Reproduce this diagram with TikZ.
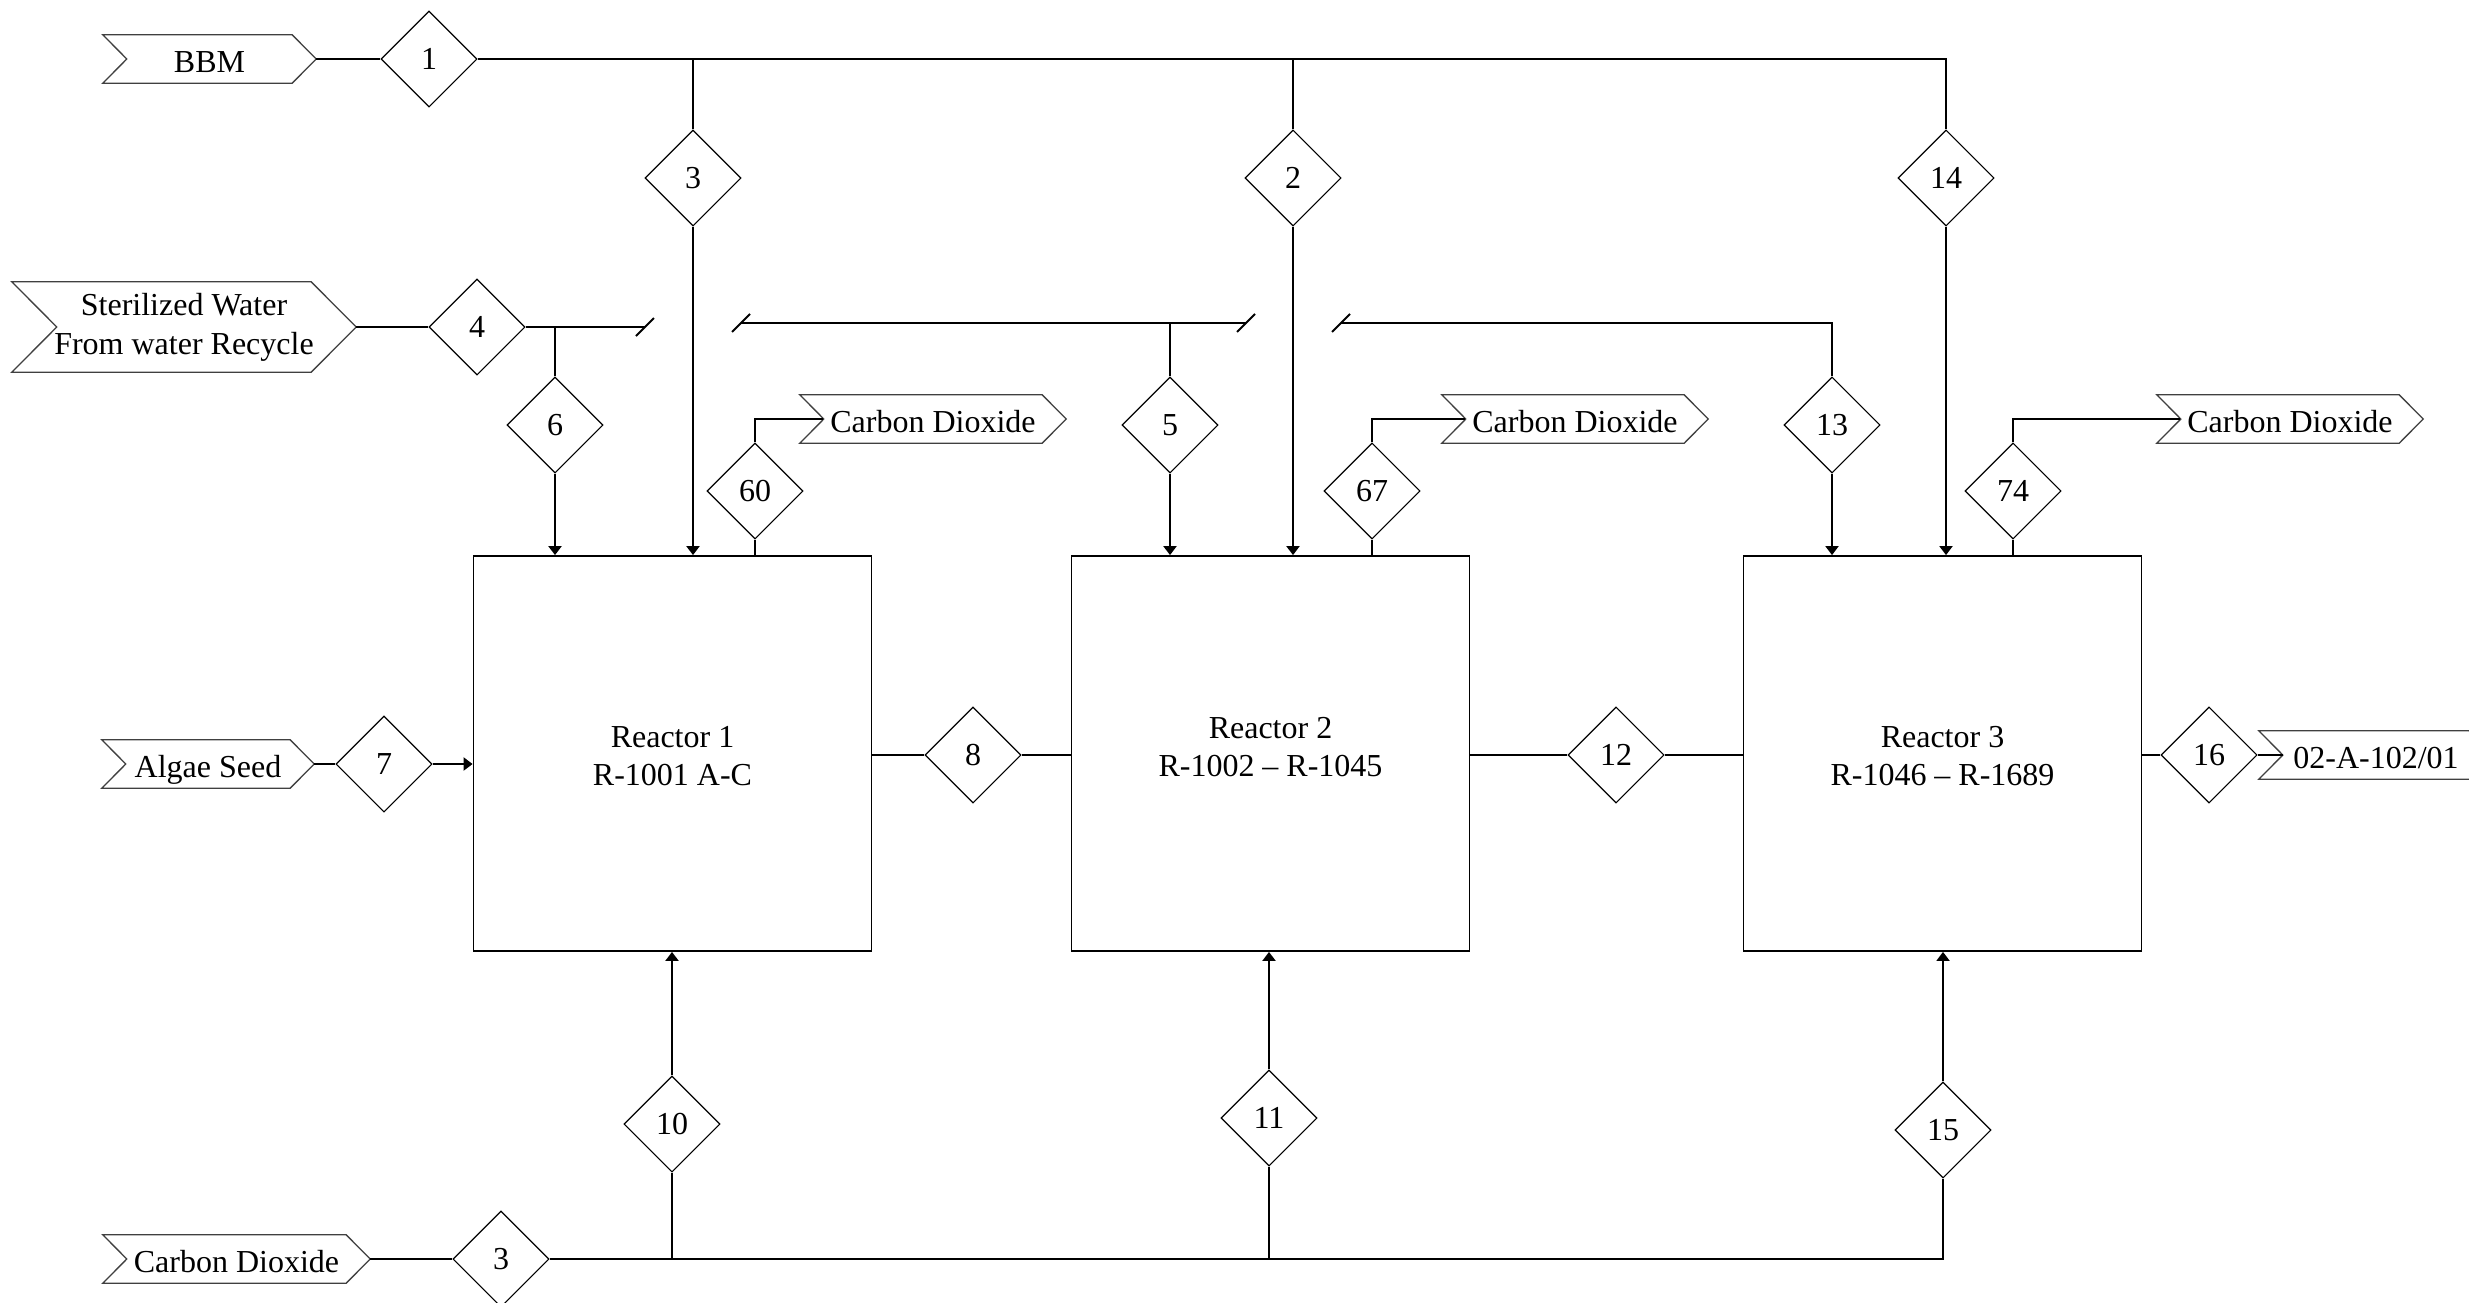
\documentclass[tikz,border=0pt]{standalone}
\usepackage{fontspec}
\setmainfont{Liberation Serif}
\usetikzlibrary{shapes.geometric,arrows.meta}
\newcommand\opdraw[2]{\draw[opline] (#1.north west) -- ([xshift=-#2]#1.north east) -- (#1.east) -- ([xshift=-#2]#1.south east) -- (#1.south west) -- ([xshift=#2]#1.west) -- cycle;}
\newcommand\brkmark[1]{\draw[brk] ([shift={(-9pt,-9pt)}]#1) -- ([shift={(9pt,9pt)}]#1);}
\begin{document}
\begin{tikzpicture}[x=1pt,y=-1pt,
  font=\fontsize{32}{39}\selectfont,
  diam/.style={diamond, draw, line width=1.1pt, minimum width=96pt, minimum height=96pt, inner sep=0pt, fill=white},
  reactor/.style={draw, line width=1.8pt, minimum width=398pt, minimum height=395pt, inner sep=0pt},
  rtext/.style={align=center, font=\fontsize{32}{38}\selectfont},
  opnode/.style={inner sep=0pt, minimum height=48pt, align=center, text height=26pt, text depth=0pt},
  opline/.style={draw=black!75, line width=1.3pt, line join=miter},
  flow/.style={line width=2pt},
  arr/.style={flow, -{Triangle[length=9pt,width=13pt]}},
  brk/.style={line width=2pt}]
\useasboundingbox (0,0) rectangle (2469,1302);

% offpage connectors
\node[opnode, minimum width=213pt] (bbm) at (209.5,59) {BBM};
\node[inner sep=0pt, minimum height=90pt, align=center, minimum width=344pt] (sw) at (184,327) {Sterilized Water\\From water Recycle};
\node[opnode, minimum width=266pt] (co1) at (933,419) {Carbon Dioxide};
\node[opnode, minimum width=266pt] (co2) at (1575,419) {Carbon Dioxide};
\node[opnode, minimum width=266pt] (co3) at (2290,419) {Carbon Dioxide};
\node[opnode, minimum width=212pt] (alg) at (208,764) {Algae Seed};
\node[opnode, minimum width=234pt] (prod) at (2376,755) {02-A-102/01};
\node[opnode, minimum width=267pt] (co4) at (236.5,1259) {Carbon Dioxide};
\opdraw{bbm}{24pt}
\opdraw{sw}{45pt}
\opdraw{co1}{24pt}
\opdraw{co2}{24pt}
\opdraw{co3}{24pt}
\opdraw{alg}{24pt}
\opdraw{prod}{24pt}
\opdraw{co4}{24pt}

% reactors
\node[reactor, label={[rtext, yshift=-3pt]center:Reactor 1\\R-1001 A-C}] (r1) at (672.5,753.5) {};
\node[reactor, label={[rtext, yshift=6pt]center:Reactor 2\\R-1002 – R-1045}] (r2) at (1270.5,753.5) {};
\node[reactor, label={[rtext, yshift=-3pt]center:Reactor 3\\R-1046 – R-1689}] (r3) at (1942.5,753.5) {};

% stream diamonds
\node[diam] (d1) at (429,59) {1};
\node[diam] (d3t) at (693,178) {3};
\node[diam] (d2) at (1293,178) {2};
\node[diam] (d14) at (1946,178) {14};
\node[diam] (d4) at (477,327) {4};
\node[diam] (d6) at (555,425) {6};
\node[diam] (d5) at (1170,425) {5};
\node[diam] (d13) at (1832,425) {13};
\node[diam] (d60) at (755,491) {60};
\node[diam] (d67) at (1372,491) {67};
\node[diam] (d74) at (2013,491) {74};
\node[diam] (d7) at (384,764) {7};
\node[diam] (d8) at (973,755) {8};
\node[diam] (d12) at (1616,755) {12};
\node[diam] (d16) at (2209,755) {16};
\node[diam] (d3b) at (501,1259) {3};
\node[diam] (d10) at (672,1124) {10};
\node[diam] (d11) at (1269,1118) {11};
\node[diam] (d15) at (1943,1130) {15};

% BBM header
\draw[flow] (bbm.east) -- (d1.west);
\draw[flow] (d1.east) -| (d14.north);
\draw[flow] (d3t.north) -- (d3t.north |- d1.east);
\draw[flow] (d2.north) -- (d2.north |- d1.east);
\draw[arr] (d3t.south) -- (d3t.south |- r1.north);
\draw[arr] (d2.south) -- (d2.south |- r2.north);
\draw[arr] (d14.south) -- (d14.south |- r3.north);

% water header with line breaks
\coordinate (b1) at (645,327);
\coordinate (b2) at (741,323);
\coordinate (b3) at (1246,323);
\coordinate (b4) at (1341,323);
\draw[flow] (sw.east) -- (d4.west);
\draw[flow] (d4.east) -- (b1);
\draw[flow] (d6.north) -- (d6.north |- b1);
\draw[arr] (d6.south) -- (d6.south |- r1.north);
\draw[flow] (b2) -- (b3);
\draw[flow] (d5.north) -- (d5.north |- b2);
\draw[arr] (d5.south) -- (d5.south |- r2.north);
\draw[flow] (b4) -| (d13.north);
\draw[arr] (d13.south) -- (d13.south |- r3.north);
\brkmark{b1}
\brkmark{b2}
\brkmark{b3}
\brkmark{b4}

% CO2 vents
\draw[flow] (d60.south |- r1.north) -- (d60.south);
\draw[flow] (d60.north) |- ([xshift=23pt]co1.west);
\draw[flow] (d67.south |- r2.north) -- (d67.south);
\draw[flow] (d67.north) |- ([xshift=23pt]co2.west);
\draw[flow] (d74.south |- r3.north) -- (d74.south);
\draw[flow] (d74.north) |- ([xshift=23pt]co3.west);

% algae seed and reactor train
\draw[flow] (alg.east) -- (d7.west);
\draw[arr] (d7.east) -- (d7.east -| r1.west);
\draw[flow] (d8.west -| r1.east) -- (d8.west);
\draw[flow] (d8.east) -- (d8.east -| r2.west);
\draw[flow] (d12.west -| r2.east) -- (d12.west);
\draw[flow] (d12.east) -- (d12.east -| r3.west);
\draw[flow] (d16.west -| r3.east) -- (d16.west);
\draw[flow] (d16.east) -- ([xshift=24pt]prod.west);

% CO2 feed header
\draw[flow] (co4.east) -- (d3b.west);
\draw[flow] (d3b.east) -| (d15.south);
\draw[flow] (d10.south) -- (d10.south |- d3b.east);
\draw[flow] (d11.south) -- (d11.south |- d3b.east);
\draw[arr] (d10.north) -- (d10.north |- r1.south);
\draw[arr] (d11.north) -- (d11.north |- r2.south);
\draw[arr] (d15.north) -- (d15.north |- r3.south);
\end{tikzpicture}
\end{document}
